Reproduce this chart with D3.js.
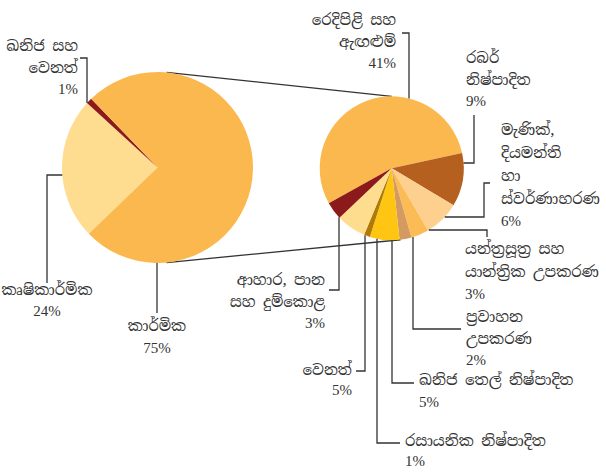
<!DOCTYPE html>
<html>
<head>
<meta charset="utf-8">
<script src="https://cdn.jsdelivr.net/npm/d3@7"></script>
<style>
  body { margin: 0; background: #fff; }
  svg text { font-family: "Noto Serif Sinhala", "Noto Sans Sinhala", "Iskoola Pota", "Liberation Serif", serif; font-size: 15px; fill: #333; }
</style>
</head>
<body>
<svg></svg>
<script>
const width = 606;
const height = 476;

// overview pie: share of export earnings
const overviewCats = ["කෘෂිකාර්මික", "ඛනිජ සහ\nවෙනත්", "කාර්මික"];
const overviewValues = [24, 1, 75];

// breakdown of the industrial share
const industryCats = [
    "රෙදිපිළි සහ\nඇඟළුම්",
    "රබර්\nනිෂ්පාදිත",
    "මැණික්,\nදියමන්ති\nහා\nස්වර්ණාභරණ",
    "යන්ත්‍රසූත්‍ර සහ\nයාන්ත්‍රික උපකරණ",
    "ප්‍රවාහන\nඋපකරණ",
    "ඛනිජ තෙල් නිෂ්පාදිත",
    "රසායනික නිෂ්පාදිත",
    "වෙනත්",
    "ආහාර, පාන\nසහ දුම්කොළ"
];
const industryValues = [41, 9, 6, 3, 2, 5, 1, 5, 3];

const overviewColors = ["#fedd90", "#8c1a1a", "#fbb84e"];
const industryColors = ["#fbb84e", "#b5601f", "#fdd08f", "#fcbc55", "#d49a5f", "#fec612", "#b07a05", "#fedd8f", "#8c1a1a"];

const deg = Math.PI / 180;
const left = { cx: 157.5, cy: 167.5, r: 95.5, start: 226 };
const right = { cx: 391.7, cy: 168.3, r: 72, start: 240.9 };

// label layout: anchor, x, first line y, line gap, leader points (first point snapped to circle)
const overviewLayout = [
    { anchor: "middle", x: 47, y: 291, gap: 22, leader: [["h", 175], [47, 175], [47, 283]] },
    { anchor: "end", x: 78, y: 47, gap: 22, leader: [["v", 87, -1], [87, 58], [80, 58]] },
    { anchor: "middle", x: 157, y: 327, gap: 23, leader: [["v", 157, 1], [157, 313]] }
];
const industryLayout = [
    { anchor: "end", x: 396, y: 21, gap: 22, leader: [["v", 409, -1], [409, 33], [402, 33]] },
    { anchor: "start", x: 466, y: 59, gap: 22, leader: [["h", 163, 1], [474, 163], [474, 115]] },
    { anchor: "start", x: 501, y: 131, gap: 23, leader: [["h", 217, 1], [484, 217], [484, 183], [490, 183]] },
    { anchor: "start", x: 465, y: 250, gap: 23, leader: [["h", 230, 1], [487, 230], [487, 237]] },
    { anchor: "start", x: 466, y: 318, gap: 22, leader: [["v", 413, 1], [413, 329], [461, 329]] },
    { anchor: "start", x: 419, y: 381, gap: 23, leader: [["v", 392, 1], [392, 383], [414, 383]] },
    { anchor: "start", x: 405, y: 442, gap: 21, leader: [["v", 377, 1], [377, 443], [400, 443]] },
    { anchor: "end", x: 352, y: 371, gap: 21, leader: [["v", 365, 1], [365, 371], [356, 371]] },
    { anchor: "end", x: 325, y: 281, gap: 22, leader: [["v", 339, 1], [339, 290], [329, 290]] }
];

const svg = d3.select("svg")
    .attr("width", width)
    .attr("height", height);

function snap(p, c) {
    // point where a vertical / horizontal leader meets the circle edge
    if (p[0] === "v") {
        const dx = p[1] - c.cx;
        return [p[1], c.cy + (p[2] || 1) * Math.sqrt(c.r * c.r - dx * dx)];
    }
    const dy = p[1] - c.cy;
    const side = p[2] === undefined ? -1 : p[2];
    return [c.cx + side * Math.sqrt(c.r * c.r - dy * dy), p[1]];
}

function drawPie(c, cats, values, colors, layout) {
    const pie = d3.pie().sort(null)
        .startAngle(c.start * deg)
        .endAngle(c.start * deg + 2 * Math.PI);
    const arc = d3.arc().innerRadius(0).outerRadius(c.r);
    const arcs = pie(values);

    const g = svg.append("g").attr("transform", `translate(${c.cx},${c.cy})`);
    g.selectAll("path")
        .data(arcs)
        .enter().append("path")
        .attr("d", arc)
        .attr("fill", (d, i) => colors[i]);

    const line = d3.line();
    layout.forEach((l, i) => {
        const pts = [snap(l.leader[0], c)].concat(l.leader.slice(1));
        svg.append("path")
            .attr("d", line(pts))
            .attr("fill", "none")
            .attr("stroke", "#333")
            .attr("stroke-width", 1.3);

        const lines = cats[i].split("\n").concat([values[i] + "%"]);
        const t = svg.append("text")
            .attr("text-anchor", l.anchor)
            .attr("x", l.x)
            .attr("y", l.y)
            .attr("dominant-baseline", "middle");
        lines.forEach((s, k) => {
            t.append("tspan")
                .attr("x", l.x)
                .attr("dy", k === 0 ? 0 : l.gap)
                .attr("font-family", k === lines.length - 1 ? "Liberation Serif, serif" : null)
                .text(s);
        });
    });
}

// connector lines between the two pies
function edge(c, a) {
    return [c.cx + c.r * Math.sin(a * deg), c.cy - c.r * Math.cos(a * deg)];
}
svg.append("path")
    .attr("d", d3.line()([edge(left, 5.5), edge(right, 0)]))
    .attr("stroke", "#333").attr("stroke-width", 1.3);
svg.append("path")
    .attr("d", d3.line()([edge(left, 174.5), edge(right, 173)]))
    .attr("stroke", "#333").attr("stroke-width", 1.3);

drawPie(left, overviewCats, overviewValues, overviewColors, overviewLayout);
drawPie(right, industryCats, industryValues, industryColors, industryLayout);
</script>
</body>
</html>
